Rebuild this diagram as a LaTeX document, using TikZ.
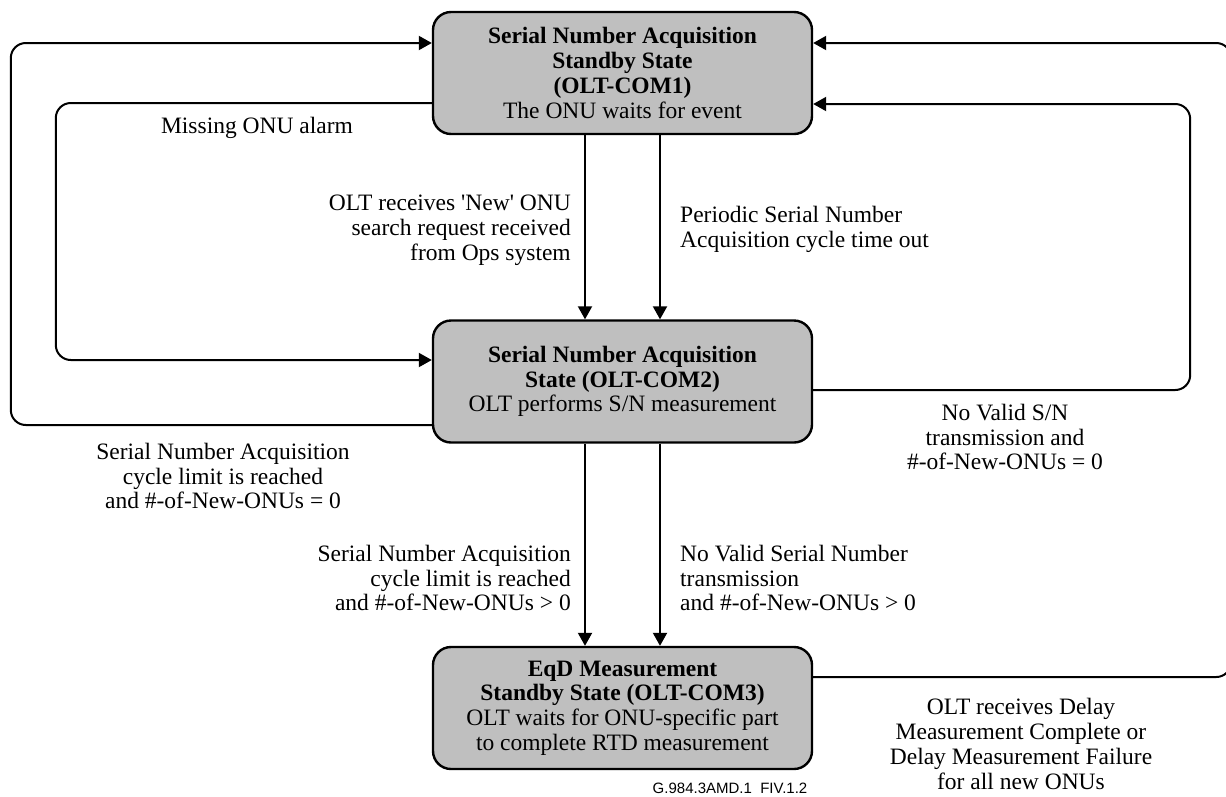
\documentclass[tikz,border=0pt]{standalone}
\usepackage{fontspec}
\setmainfont{Liberation Serif}[Ligatures=TeXOff]
\newfontfamily\tagfont{Liberation Sans}
\usetikzlibrary{arrows.meta}
\begin{document}
\begin{tikzpicture}[x=1pt,y=-1pt,
  font=\fontsize{23.5}{24.8}\selectfont,
  state/.style={draw=black, line width=2.4pt, fill=black!25, rounded corners=18pt,
    minimum width=379pt, minimum height=122pt, align=center, inner sep=0pt},
  arr/.style={line width=2pt, rounded corners=15pt,
    -{Triangle[length=13pt,width=14pt]}},
  lbl/.style={inner sep=0pt, align=center}]
\useasboundingbox (0,0) rectangle (1226,796);

% states
\node[state] (b1) at (622.5,73)
  {\textbf{Serial Number Acquisition}\\\textbf{Standby State}\\\textbf{(OLT-COM1)}\\The ONU waits for event};
\node[state] (b2) at (622.5,381.5)
  {\textbf{Serial Number Acquisition}\\\textbf{State (OLT-COM2)}\\OLT performs S/N measurement};
\node[state] (b3) at (622.5,708)
  {\textbf{EqD Measurement}\\\textbf{Standby State (OLT-COM3)}\\OLT waits for ONU-specific part\\to complete RTD measurement};

% transitions on the left
\draw[arr] ([yshift=-43.5pt]b2.west) -- ++(-421,0) |- ([yshift=30pt]b1.west);
\draw[arr] ([yshift=-30pt]b1.west) -- ++(-376,0) |- ([yshift=21.5pt]b2.west);

% transitions straight down
\draw[arr] ([xshift=-37.5pt]b1.south) -- ([xshift=-37.5pt]b2.north);
\draw[arr] ([xshift=37.5pt]b1.south) -- ([xshift=37.5pt]b2.north);
\draw[arr] ([xshift=-37.5pt]b2.south) -- ([xshift=-37.5pt]b3.north);
\draw[arr] ([xshift=37.5pt]b2.south) -- ([xshift=37.5pt]b3.north);

% transitions on the right
\draw[arr] ([yshift=-8.5pt]b2.east) -- ++(377,0) |- ([yshift=-31pt]b1.east);
\draw[arr] ([yshift=31pt]b3.east) -- ++(418,0) |- ([yshift=30pt]b1.east);

% labels
\node[lbl] (t1) at (257,128) {Missing ONU alarm};
\node[lbl, anchor=east, align=right] (t2) at (571,230)
  {OLT receives 'New' ONU\\search request received\\from Ops system};
\node[lbl, anchor=west, align=left] (t3) at (680,229)
  {Periodic Serial Number\\Acquisition cycle time out};
\node[lbl] (t4) at (223,476)
  {Serial Number Acquisition\\cycle limit is reached\\and \#-of-New-ONUs = 0};
\node[lbl] (t5) at (1005,437)
  {No Valid S/N\\transmission and\\\#-of-New-ONUs = 0};
\node[lbl, anchor=east, align=right] (t6) at (571,578)
  {Serial Number Acquisition\\cycle limit is reached\\and \#-of-New-ONUs > 0};
\node[lbl, anchor=west, align=left] (t7) at (680,578)
  {No Valid Serial Number\\transmission\\and \#-of-New-ONUs > 0};
\node[lbl] (t8) at (1021,744)
  {OLT receives Delay\\Measurement Complete or\\Delay Measurement Failure\\for all new ONUs};
\node[lbl, font=\tagfont\fontsize{15}{17}\selectfont] (tag) at (730,788) {G.984.3AMD.1\ \ FIV.1.2};
\end{tikzpicture}
\end{document}
